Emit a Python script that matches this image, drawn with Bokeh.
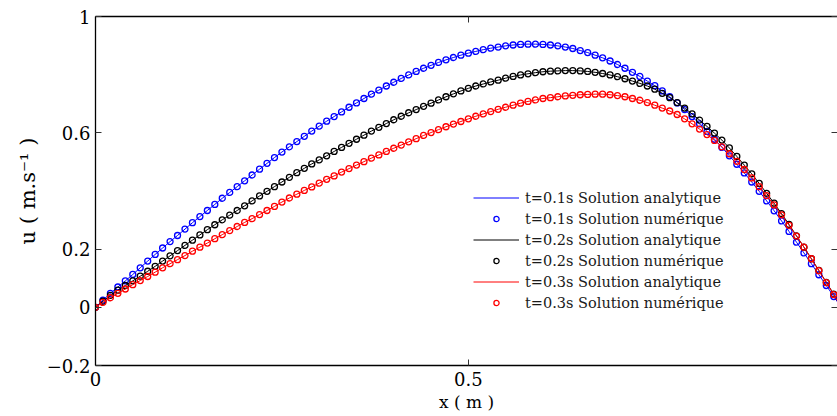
import numpy as np
from bokeh.plotting import figure
from bokeh.models import (Range1d, FixedTicker, LinearAxis, Legend, LegendItem,
                          CustomJSTickFormatter)
from bokeh.embed import file_html
from bokeh.resources import INLINE

# grid nodes x (m), step 0.01
x_nodes = np.round(np.arange(101) * 0.01, 2)

# t = 0.1 s
u_t01 = [0.000, 0.025, 0.048, 0.070, 0.091, 0.113, 0.136, 0.159, 0.182, 0.204,
         0.226, 0.247, 0.269, 0.291, 0.312, 0.333, 0.354, 0.375, 0.395, 0.415,
         0.435, 0.455, 0.475, 0.495, 0.515, 0.534, 0.552, 0.570, 0.588, 0.606,
         0.623, 0.640, 0.656, 0.672, 0.688, 0.703, 0.718, 0.733, 0.747, 0.761,
         0.774, 0.787, 0.799, 0.811, 0.822, 0.832, 0.842, 0.851, 0.859, 0.867,
         0.874, 0.880, 0.886, 0.891, 0.895, 0.899, 0.902, 0.904, 0.905, 0.905,
         0.904, 0.902, 0.899, 0.895, 0.890, 0.883, 0.876, 0.867, 0.858, 0.847,
         0.835, 0.822, 0.808, 0.794, 0.778, 0.762, 0.744, 0.724, 0.703, 0.680,
         0.656, 0.631, 0.605, 0.578, 0.550, 0.521, 0.492, 0.462, 0.431, 0.399,
         0.366, 0.332, 0.297, 0.261, 0.224, 0.187, 0.150, 0.112, 0.075, 0.037,
         0.000]

# t = 0.2 s
u_t02 = [0.000, 0.021, 0.041, 0.059, 0.075, 0.091, 0.107, 0.124, 0.141, 0.159,
         0.177, 0.195, 0.213, 0.231, 0.249, 0.267, 0.284, 0.301, 0.317, 0.333,
         0.349, 0.366, 0.383, 0.399, 0.415, 0.431, 0.447, 0.463, 0.478, 0.493,
         0.507, 0.521, 0.536, 0.550, 0.564, 0.578, 0.592, 0.606, 0.619, 0.632,
         0.645, 0.657, 0.669, 0.680, 0.691, 0.702, 0.713, 0.724, 0.734, 0.744,
         0.753, 0.761, 0.768, 0.775, 0.781, 0.788, 0.794, 0.799, 0.803, 0.807,
         0.810, 0.812, 0.813, 0.814, 0.814, 0.813, 0.811, 0.808, 0.804, 0.799,
         0.793, 0.786, 0.778, 0.770, 0.761, 0.750, 0.736, 0.721, 0.704, 0.685,
         0.665, 0.644, 0.622, 0.599, 0.575, 0.548, 0.519, 0.489, 0.459, 0.426,
         0.392, 0.358, 0.322, 0.285, 0.246, 0.207, 0.167, 0.127, 0.086, 0.045,
         0.000]

# t = 0.3 s
u_t03 = [0.000, 0.017, 0.033, 0.048, 0.063, 0.078, 0.092, 0.106, 0.121, 0.136,
         0.150, 0.164, 0.178, 0.193, 0.207, 0.221, 0.236, 0.250, 0.264, 0.278,
         0.292, 0.305, 0.319, 0.333, 0.347, 0.362, 0.376, 0.389, 0.402, 0.414,
         0.427, 0.440, 0.452, 0.465, 0.477, 0.489, 0.501, 0.513, 0.524, 0.536,
         0.547, 0.558, 0.569, 0.580, 0.591, 0.601, 0.611, 0.621, 0.630, 0.639,
         0.648, 0.657, 0.665, 0.673, 0.681, 0.688, 0.695, 0.702, 0.708, 0.713,
         0.718, 0.721, 0.724, 0.727, 0.729, 0.731, 0.732, 0.733, 0.733, 0.731,
         0.728, 0.724, 0.718, 0.712, 0.704, 0.695, 0.685, 0.675, 0.663, 0.648,
         0.631, 0.613, 0.594, 0.574, 0.552, 0.528, 0.502, 0.474, 0.445, 0.415,
         0.384, 0.352, 0.318, 0.282, 0.245, 0.207, 0.167, 0.126, 0.085, 0.044,
         0.000]

series = [
    ("t=0.1s", u_t01, "#0000ff"),
    ("t=0.2s", u_t02, "#000000"),
    ("t=0.3s", u_t03, "#ff0000"),
]

x_ticks = [0, 0.5, 1]
y_ticks = [-0.2, 0, 0.2, 0.6, 1]

FONT = "DejaVu Serif"

p = figure(width=837, height=416, output_backend="svg", toolbar_location=None,
           x_range=Range1d(0, 0.995), y_range=Range1d(-0.2, 1.0),
           min_border_left=95, min_border_top=16, min_border_bottom=51,
           min_border_right=0)
p.outline_line_color = None
p.grid.visible = False
p.background_fill_color = "white"
p.border_fill_color = "white"

fmt = CustomJSTickFormatter(code="return tick < 0 ? '\\u2212' + String(Math.abs(tick)) : String(tick);")

for ax in (p.xaxis[0], p.yaxis[0]):
    ax.axis_line_color = "black"
    ax.axis_line_width = 1.3
    ax.major_tick_in = 6
    ax.major_tick_out = 0
    ax.major_tick_line_color = "#333333"
    ax.minor_tick_line_color = None
    ax.major_label_text_font = FONT
    ax.major_label_text_font_size = "18px"
    ax.major_label_text_color = "black"
    ax.axis_label_text_font = FONT
    ax.axis_label_text_font_style = "normal"
    ax.axis_label_text_color = "black"
    ax.formatter = fmt

p.xaxis[0].ticker = FixedTicker(ticks=x_ticks)
p.yaxis[0].ticker = FixedTicker(ticks=y_ticks)
p.xaxis[0].axis_label = "x ( m )"
p.xaxis[0].axis_label_text_font_size = "17px"
p.xaxis[0].major_label_standoff = 6
p.xaxis[0].axis_label_standoff = 3
p.yaxis[0].axis_label = "u ( m.s\u207b\u00b9 )"
p.yaxis[0].axis_label_text_font_size = "21px"
p.yaxis[0].major_label_standoff = 5
p.yaxis[0].axis_label_standoff = 4

top_ax = LinearAxis(ticker=FixedTicker(ticks=x_ticks), axis_line_color="black",
                    axis_line_width=1.3, major_tick_in=6, major_tick_out=0,
                    major_tick_line_color="#333333", minor_tick_line_color=None,
                    major_label_text_font_size="1px", major_label_text_color=None,
                    major_label_standoff=0)
p.add_layout(top_ax, "above")
right_ax = LinearAxis(ticker=FixedTicker(ticks=y_ticks), axis_line_color=None,
                      major_tick_in=6, major_tick_out=0,
                      major_tick_line_color="#333333", minor_tick_line_color=None,
                      major_label_text_font_size="1px", major_label_text_color=None,
                      major_label_standoff=0)
p.add_layout(right_ax, "right")

items = []
for name, u, col in series:
    ln = p.line(x_nodes, u, line_color=col, line_width=1)
    sc = p.scatter(x_nodes, u, marker="circle", size=6, fill_color=None,
                   line_color=col, line_width=1.3)
    items.append(LegendItem(label=name + " Solution analytique", renderers=[ln]))
    items.append(LegendItem(label=name + " Solution num\u00e9rique", renderers=[sc]))

legend = Legend(items=items, location=(378, 52), orientation="vertical",
                border_line_color=None, background_fill_alpha=0,
                padding=0, margin=0, spacing=0,
                label_text_font=FONT, label_text_font_size="14.5px",
                label_text_color="#1a1a1a",
                glyph_width=46, glyph_height=13, label_height=21,
                label_standoff=6)
p.add_layout(legend)

open("out.html", "w").write(file_html(p, INLINE))
